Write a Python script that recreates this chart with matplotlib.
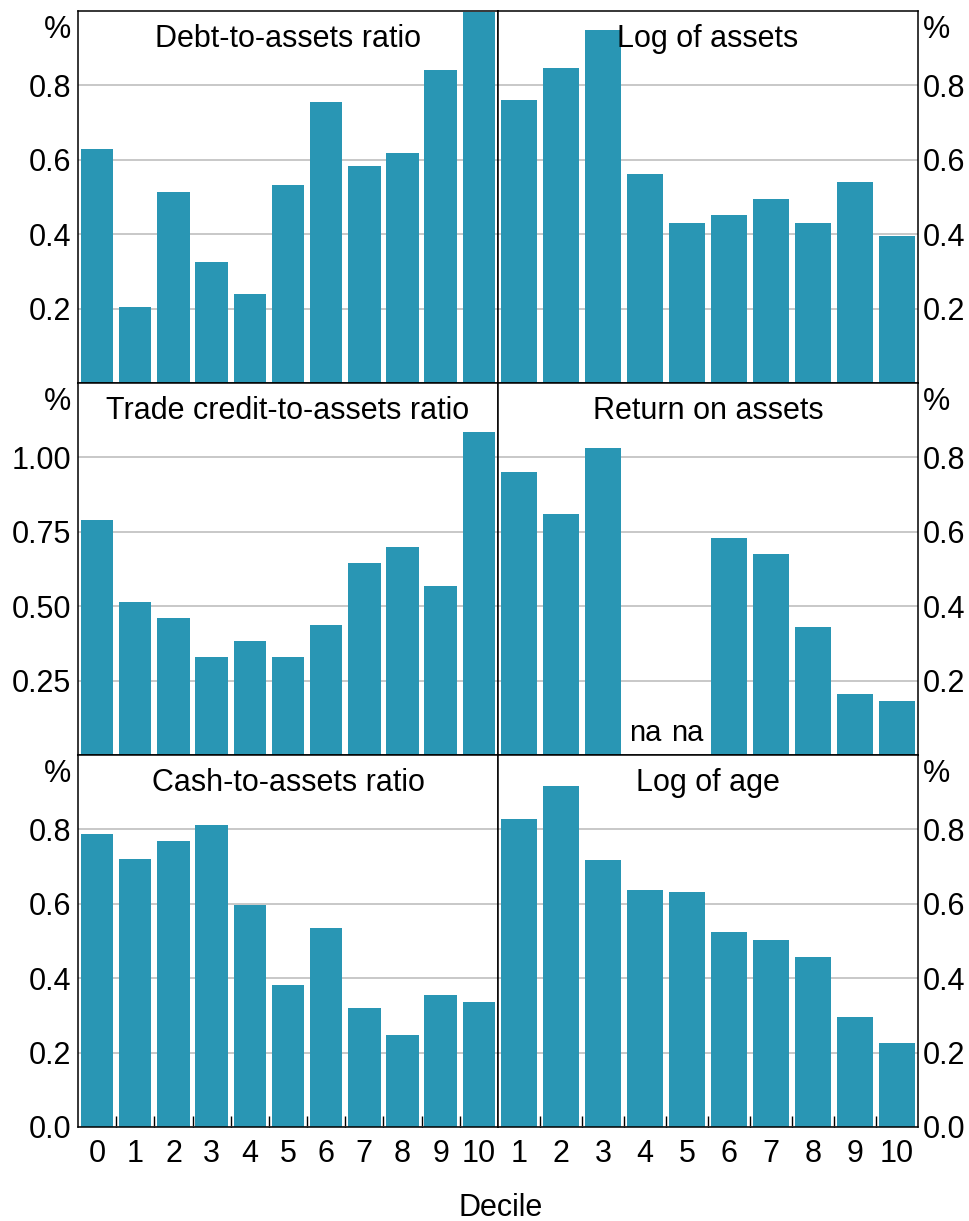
import numpy as np
import matplotlib
matplotlib.use("Agg")
import matplotlib.pyplot as plt

# ---- data ----
deciles_left = [0, 1, 2, 3, 4, 5, 6, 7, 8, 9, 10]
deciles_right = [1, 2, 3, 4, 5, 6, 7, 8, 9, 10]

debt_to_assets = [0.629, 0.203, 0.513, 0.325, 0.239, 0.532, 0.756, 0.583, 0.619, 0.842, 0.997]
log_assets = [0.762, 0.848, 0.948, 0.563, 0.431, 0.452, 0.495, 0.431, 0.541, 0.396]
trade_credit = [0.788, 0.515, 0.461, 0.330, 0.384, 0.330, 0.438, 0.645, 0.700, 0.569, 1.084]
return_on_assets = [0.760, 0.649, 0.824, np.nan, np.nan, 0.582, 0.539, 0.343, 0.165, 0.144]
cash_to_assets = [0.787, 0.720, 0.768, 0.811, 0.598, 0.383, 0.536, 0.321, 0.246, 0.354, 0.337]
log_age = [0.827, 0.916, 0.717, 0.636, 0.633, 0.523, 0.502, 0.456, 0.297, 0.227]

titles = ["Debt-to-assets ratio", "Log of assets",
          "Trade credit-to-assets ratio", "Return on assets",
          "Cash-to-assets ratio", "Log of age"]

# ---- style ----
bar_color = "#2996b4"
grid_color = "#c4c4c4"
font_size = 22
plt.rcParams["font.family"] = ["Liberation Sans", "DejaVu Sans"]
plt.rcParams["font.size"] = font_size

fig, axes = plt.subplots(3, 2, figsize=(9.7, 12.21), dpi=100)
fig.subplots_adjust(left=78/970, right=918/970, top=1-11/1221,
                    bottom=1-1127/1221, wspace=0, hspace=0)

panels = [
    (axes[0, 0], deciles_left, debt_to_assets, 1.0, [0.2, 0.4, 0.6, 0.8], "%.1f"),
    (axes[0, 1], deciles_right, log_assets, 1.0, [0.2, 0.4, 0.6, 0.8], "%.1f"),
    (axes[1, 0], deciles_left, trade_credit, 1.25, [0.25, 0.5, 0.75, 1.0], "%.2f"),
    (axes[1, 1], deciles_right, return_on_assets, 1.0, [0.2, 0.4, 0.6, 0.8], "%.1f"),
    (axes[2, 0], deciles_left, cash_to_assets, 1.0, [0.0, 0.2, 0.4, 0.6, 0.8], "%.1f"),
    (axes[2, 1], deciles_right, log_age, 1.0, [0.0, 0.2, 0.4, 0.6, 0.8], "%.1f"),
]

for i, (ax, x, y, ymax, yticks, fmt) in enumerate(panels):
    row, col = divmod(i, 2)
    x = np.array(x)
    y = np.array(y, dtype=float)
    ok = ~np.isnan(y)
    ax.bar(x[ok], y[ok], width=0.85, color=bar_color, zorder=2)
    ax.set_xlim(x[0] - 0.5, x[-1] + 0.5)
    ax.set_ylim(0, ymax)
    ax.set_yticks(yticks)
    ax.set_yticklabels([fmt % v for v in yticks])
    ax.grid(axis="y", color=grid_color, linewidth=1.3, zorder=0)
    ax.set_axisbelow(True)
    for s in ax.spines.values():
        s.set_linewidth(1.1)
    ax.tick_params(axis="y", length=0, labelsize=font_size)

    if col == 1:
        ax.yaxis.tick_right()
        ax.tick_params(axis="y", pad=3.5)
        ax.text(1.012, 0.948, "%", transform=ax.transAxes, ha="left", va="center")
    else:
        ax.tick_params(axis="y", pad=5)
        ax.text(-0.017, 0.948, "%", transform=ax.transAxes, ha="right", va="center")

    ax.text(0.5, 0.926, titles[i], transform=ax.transAxes, ha="center", va="center")

    if row == 2:
        ax.set_xticks(x)
        ax.set_xticklabels([str(v) for v in x])
        ax.set_xticks(x[:-1] + 0.5, minor=True)
        ax.tick_params(axis="x", which="major", length=0, pad=9, labelsize=font_size)
        ax.tick_params(axis="x", which="minor", direction="in", length=8, width=1)
    else:
        ax.set_xticks([])

# the two missing return-on-assets deciles
for xv, yv in zip(deciles_right, return_on_assets):
    if np.isnan(yv):
        axes[1, 1].text(xv, 0.058, "na", ha="center", va="center", fontsize=21)

fig.text(501/970, 1 - 1208/1221, "Decile", ha="center", va="center")

fig.savefig("out.png", dpi=100)
